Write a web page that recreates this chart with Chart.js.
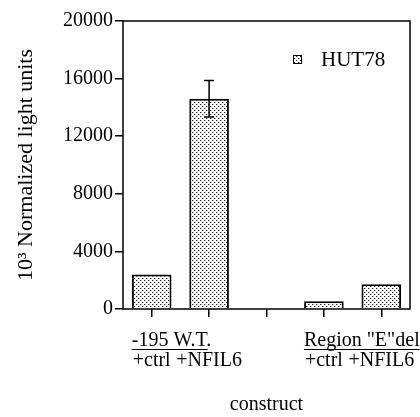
<!DOCTYPE html>
<html lang="en">
  <head>
    <meta charset="UTF-8" />
    <title>HUT78 construct</title>
    <script src="https://cdn.jsdelivr.net/npm/chart.js"></script>
    <style>
      body { margin: 0; background: #fff; }
      #wrap { width: 420px; height: 417px; }
    </style>
  </head>
  <body>
    <div id="wrap"><canvas id="bieuDo"></canvas></div>
    <script>
      // du lieu doc tu hinh
      var nhan = ["+ctrl", "+NFIL6", "", "+ctrl", "+NFIL6"];
      var giaTri = [2400, 14600, null, 530, 1720];
      var saiSo = [0, 1270, 0, 0, 0];
      var nhom = ["-195 W.T.", 'Region "E"del'];
      var nhomGachChan = ["-195 W.T", 'Region "E"del'];
      var nhomViTri = [0, 3];
      var yTicks = [0, 4000, 8000, 12000, 16000, 20000];
      var tenSeries = "HUT78";

      var fontSerif = "'Liberation Serif', 'DejaVu Serif', serif";

      // hoa van cham cham
      function taoHoaVan() {
        var c = document.createElement("canvas");
        c.width = 4; c.height = 4;
        var g = c.getContext("2d");
        g.fillStyle = "#fff";
        g.fillRect(0, 0, 4, 4);
        g.fillStyle = "#222";
        g.fillRect(0, 0, 1, 1);
        g.fillRect(2, 2, 1, 1);
        g.fillStyle = "#bbb";
        g.fillRect(1, 0, 1, 1);
        g.fillRect(3, 2, 1, 1);
        return g.createPattern(c, "repeat");
      }
      var hoaVan = taoHoaVan();

      var khungPlugin = {
        id: "khung",
        afterDatasetsDraw: function (chart) {
          var ctx = chart.ctx, a = chart.chartArea;
          var x = chart.scales.x, y = chart.scales.y;
          var meta = chart.getDatasetMeta(0);
          ctx.save();
          // error bars
          ctx.strokeStyle = "#000";
          ctx.lineWidth = 1.5;
          for (var i = 0; i < giaTri.length; i++) {
            if (!saiSo[i] || giaTri[i] == null) continue;
            var px = meta.data[i].x;
            var yt = y.getPixelForValue(giaTri[i] + saiSo[i]);
            var yb = y.getPixelForValue(giaTri[i] - saiSo[i]);
            ctx.beginPath();
            ctx.moveTo(px, yt); ctx.lineTo(px, yb);
            ctx.moveTo(px - 5, yt); ctx.lineTo(px + 5, yt);
            ctx.moveTo(px - 5, yb); ctx.lineTo(px + 5, yb);
            ctx.stroke();
          }
          // khung
          ctx.lineWidth = 1.5;
          ctx.strokeRect(a.left, a.top, a.right - a.left, a.bottom - a.top);
          // legend
          ctx.fillStyle = hoaVan;
          ctx.fillRect(293, 55, 9, 9);
          ctx.lineWidth = 1;
          ctx.strokeRect(293.5, 55.5, 8, 8);
          ctx.fillStyle = "#000";
          ctx.font = "21px " + fontSerif;
          ctx.textBaseline = "alphabetic";
          ctx.fillText(tenSeries, 321, 66);
          // nhan nhom
          ctx.font = "20px " + fontSerif;
          for (var j = 0; j < nhom.length; j++) {
            var cx = x.getPixelForValue(nhomViTri[j]);
            var w0 = ctx.measureText(nhan[nhomViTri[j]]).width;
            var left = cx - w0 / 2 - 1;
            ctx.fillText(nhom[j], left, 346);
            var wu = ctx.measureText(nhomGachChan[j]).width;
            ctx.lineWidth = 1.2;
            ctx.beginPath();
            ctx.moveTo(left, 349.5); ctx.lineTo(left + wu, 349.5);
            ctx.stroke();
          }
          ctx.restore();
        },
      };

      var ctx = document.getElementById("bieuDo").getContext("2d");
      new Chart(ctx, {
        type: "bar",
        data: {
          labels: nhan,
          datasets: [
            {
              label: tenSeries,
              data: giaTri,
              backgroundColor: hoaVan,
              borderColor: "#000",
              borderWidth: 2,
              categoryPercentage: 1,
              barPercentage: 0.69,
            },
          ],
        },
        options: {
          responsive: true,
          maintainAspectRatio: false,
          animation: false,
          layout: { autoPadding: false, padding: { top: 21, right: 10, left: 0, bottom: 0 } },
          plugins: { legend: { display: false }, tooltip: { enabled: false } },
          scales: {
            x: {
              afterFit: function (s) { s.height = 108; s.paddingLeft = 0; s.paddingRight = 0; },
              grid: { display: true, drawOnChartArea: false, offset: false, tickLength: 8, color: "#000", lineWidth: 1.5 },
              border: { display: false },
              ticks: { color: "#000", padding: 32, font: { family: fontSerif, size: 20 }, maxRotation: 0, autoSkip: false },
              title: { display: true, text: "construct", color: "#000", font: { family: fontSerif, size: 20 }, padding: { top: 0, bottom: 0 } },
            },
            y: {
              min: 0,
              max: 20000,
              afterFit: function (s) { s.width = 123; s.paddingTop = 0; s.paddingBottom = 0; },
              afterBuildTicks: function (s) { s.ticks = yTicks.map(function (v) { return { value: v }; }); },
              grid: { display: true, drawOnChartArea: false, tickLength: 8, color: "#000", lineWidth: 1.5 },
              border: { display: false },
              ticks: { color: "#000", padding: 2, font: { family: fontSerif, size: 20 }, callback: function (v) { return String(v); } },
              title: { display: true, text: "10³ Normalized light units", color: "#000", font: { family: fontSerif, size: 22 }, padding: { top: 13, bottom: 0 } },
            },
          },
        },
        plugins: [khungPlugin],
      });
    </script>
  </body>
</html>
